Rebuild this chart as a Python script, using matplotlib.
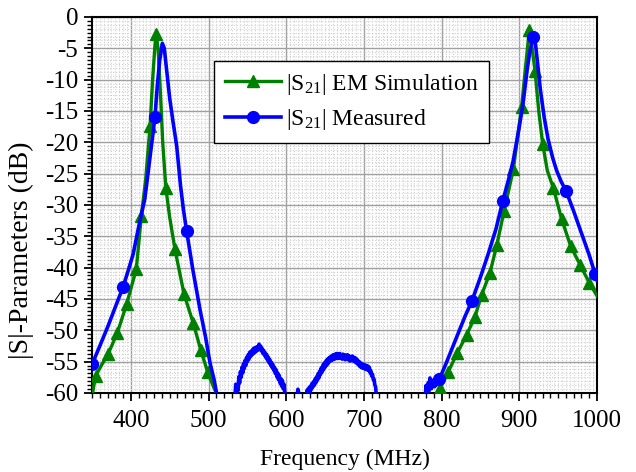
import numpy as np
import matplotlib.pyplot as plt
from matplotlib.ticker import MultipleLocator

plt.rcParams['font.family'] = ['Liberation Serif', 'DejaVu Serif']
plt.rcParams['mathtext.fontset'] = 'custom'
plt.rcParams['mathtext.rm'] = 'Liberation Serif'
plt.rcParams['mathtext.it'] = 'Liberation Serif:italic'
plt.rcParams['axes.unicode_minus'] = False

# |S21| EM simulation (two passbands), 1 = point carries a marker
sim_f_lo = [350, 354.5, 362, 370.6, 382.6, 394.6, 407, 413.5, 419, 424.7, 428, 431,
            432.5, 435, 438, 441, 445, 450, 456.8, 468.4, 480.4, 489.9, 498.9, 507, 512]
sim_db_lo = [-60.5, -57.3, -55.6, -53.8, -50.4, -45.8, -40.2, -31.7, -26, -17.4, -10, -4.5,
             -2.7, -5, -12, -20, -27.3, -32, -37.1, -44.2, -48.9, -53.1, -56.7, -59.2, -60.5]
sim_mk_lo = [0, 1, 0, 1, 1, 1, 1, 1, 0, 1, 0, 0,
             1, 0, 0, 0, 1, 0, 1, 1, 1, 1, 1, 0, 0]

sim_f_hi = [795, 798, 808.6, 820.2, 832.3, 843, 851.6, 862.3, 871, 880.3, 892.3, 903, 908,
            912.9, 916, 920.2, 925, 930, 936, 943.8, 954.6, 966.2, 978, 990, 1000]
sim_db_hi = [-60.5, -59.2, -56.6, -53.6, -50.7, -47.8, -44.3, -40.8, -36.4, -31, -24.3, -14.3, -8,
             -2, -4.5, -8.6, -15, -20.2, -24.5, -27.3, -32.3, -36.6, -39.5, -42.4, -44.5]
sim_mk_hi = [0, 1, 1, 1, 1, 1, 1, 1, 1, 1, 1, 1, 0,
             1, 0, 1, 0, 1, 0, 1, 1, 1, 1, 1, 0]

# |S21| measured: lower passband
meas_f_lo = [350.5, 360, 370, 380, 389.9, 397, 403, 410, 418, 424, 428, 431, 434, 437,
             440.5, 443, 446, 450, 454, 459, 464, 467.6, 471.8, 480, 489, 496, 502, 507, 511]
meas_db_lo = [-55.3, -52.5, -49.5, -46.3, -43.1, -40.3, -37.8, -33.5, -29, -23, -19, -16, -11, -7,
              -4.2, -5, -8.5, -13, -16.5, -20.6, -27, -30.7, -34.2, -40.5, -46.7, -51, -55.3, -57.8, -60.5]
meas_mk_lo = [1, 0, 0, 0, 1, 0, 0, 0, 0, 0, 0, 1, 0, 0,
              0, 0, 0, 0, 0, 0, 0, 0, 1, 0, 0, 0, 0, 0, 0]

# measured noise floor bumps (534-599 MHz, ~615 MHz, 626-716 MHz)
meas_f_n1 = list(range(534, 600))
meas_db_n1 = [-60.5, -58.6, -59.8, -58.9, -59.6, -57.4, -58.4, -56.6, -57.5, -55.9,
              -56.8, -55.3, -56.1, -54.8, -55.6, -54.3, -55.0, -53.9, -54.6, -53.5,
              -54.2, -53.3, -53.9, -53.0, -53.7, -52.8, -53.5, -52.7, -53.3, -52.6,
              -53.1, -52.2, -52.9, -52.5, -53.3, -52.9, -53.7, -53.2, -54.0, -53.6,
              -54.4, -53.9, -54.8, -54.3, -55.2, -54.7, -55.6, -55.1, -56.0, -55.5,
              -56.4, -55.9, -56.9, -56.3, -57.4, -56.8, -57.9, -57.2, -58.4, -57.7,
              -58.9, -58.0, -59.3, -58.6, -59.8, -60.5]

meas_f_n2 = [614, 615, 616, 617]
meas_db_n2 = [-60.5, -59.4, -59.9, -60.5]

meas_f_n3 = list(range(626, 717))
meas_db_n3 = [-60.5, -59.5, -60.1, -59.2, -59.8, -58.9, -59.5, -58.5, -59.1, -58.2,
              -58.8, -57.8, -58.4, -57.4, -58.0, -56.9, -57.6, -56.5, -57.1, -56.0,
              -56.7, -55.6, -56.3, -55.2, -55.9, -54.9, -55.6, -54.6, -55.3, -54.4,
              -55.0, -54.2, -54.8, -54.0, -54.7, -53.9, -54.6, -53.8, -54.5, -53.7,
              -54.4, -53.8, -54.5, -53.7, -54.4, -53.9, -54.6, -53.8, -54.5, -53.9,
              -54.7, -54.0, -54.6, -53.9, -54.7, -54.1, -54.9, -54.2, -54.8, -54.1,
              -54.9, -54.3, -55.0, -54.4, -55.2, -54.6, -55.4, -54.9, -55.7, -55.1,
              -55.9, -55.3, -56.0, -55.4, -56.1, -55.5, -56.2, -55.6, -56.3, -55.7,
              -56.4, -55.9, -56.8, -56.5, -57.3, -57.0, -57.9, -57.8, -58.7, -59.0,
              -60.5]

# measured: upper passband
meas_f_hi = [779, 780, 781, 782, 783, 784, 785, 786, 787, 788, 789, 790, 791, 792, 793,
             794, 795, 796, 797, 805, 818, 830, 838.7,
             850, 860, 870, 878.6, 886, 892, 900, 905, 910, 913, 916, 918, 921, 924, 927, 932,
             937, 943, 948, 954, 960, 970, 980, 990, 997.5, 1000]
meas_db_hi = [-60.5, -58.8, -60.2, -59.2, -58.3, -59.6, -57.6, -58.7, -59.3, -58.0, -58.6,
              -57.9, -59.0, -58.2, -58.7, -58.0, -58.5, -57.9, -57.8, -55.5, -51.5, -47.8, -45.4,
              -41.5, -37.8, -33.8, -29.4, -26, -23, -17.5, -13.6, -8.5, -6, -4, -3.2, -4.5, -8,
              -11.5, -16, -19.5, -22.5, -24.5, -26.3, -27.7, -31, -34.5, -38, -41, -42]
meas_mk_hi = [0] * 18 + [1, 0, 0, 0, 1,
              0, 0, 0, 1, 0, 0, 0, 0, 0, 0, 0, 1, 0, 0, 0, 0,
              0, 0, 0, 0, 1, 0, 0, 0, 1, 0]


def join(*parts):
    # glue segments with NaN gaps so each series is one Line2D
    out = []
    for i, p in enumerate(parts):
        if i:
            out.append(np.nan)
        out.extend(p)
    return np.array(out, dtype=float)


sim_f = join(sim_f_lo, sim_f_hi)
sim_db = join(sim_db_lo, sim_db_hi)
sim_mk = join(sim_mk_lo, sim_mk_hi) == 1

meas_f = join(meas_f_lo, meas_f_n1, meas_f_n2, meas_f_n3, meas_f_hi)
meas_db = join(meas_db_lo, meas_db_n1, meas_db_n2, meas_db_n3, meas_db_hi)
meas_mk = join(meas_mk_lo, [0] * len(meas_f_n1), [0] * len(meas_f_n2),
               [0] * len(meas_f_n3), meas_mk_hi) == 1

fig = plt.figure(figsize=(6.36, 4.72), dpi=100)
ax = fig.add_axes([0.1447, 0.1674, 0.794, 0.7966])

ax.plot(sim_f, sim_db, '-^', color='#008000', lw=2.4, ms=8,
        markevery=list(sim_mk), label='|S$_{21}$| EM Simulation', zorder=3)
ax.plot(meas_f, meas_db, '-o', color='#0000FF', lw=2.6, ms=8.5,
        markevery=list(meas_mk), label='|S$_{21}$| Measured', zorder=4)

ax.set_xlim(350, 1000)
ax.set_ylim(-60, 0)
ax.xaxis.set_major_locator(MultipleLocator(100))
ax.xaxis.set_minor_locator(MultipleLocator(10))
ax.yaxis.set_major_locator(MultipleLocator(5))
ax.yaxis.set_minor_locator(MultipleLocator(0.625))

ax.set_axisbelow(True)
ax.grid(which='major', color='#a0a0a0', lw=1.0, ls='-')
ax.grid(which='minor', color='#cfcfcf', lw=0.8, ls=':')
# extra dotted grid halfway between the 10 MHz minor ticks
for xg in np.arange(355, 1000, 10):
    ax.axvline(xg, color='#cfcfcf', lw=0.8, ls=':', zorder=0.5)

for s in ax.spines.values():
    s.set_linewidth(1.5)
ax.tick_params(which='major', direction='out', length=6, width=1.3, labelsize=18, pad=6)
ax.tick_params(which='minor', direction='out', length=3.5, width=1.0)
ax.tick_params(axis='y', which='major', pad=4)

ax.set_xlabel('Frequency (MHz)', fontsize=17, labelpad=12)
ax.set_ylabel('|S|-Parameters (dB)', fontsize=20, labelpad=2)
ax.yaxis.set_label_coords(-0.115, 0.38)

leg = ax.legend(loc='upper left', bbox_to_anchor=(0.2416, 0.8827), borderaxespad=0,
                fontsize=17, handlelength=2.4, handletextpad=0.2, labelspacing=0.45,
                fancybox=False, edgecolor='black', framealpha=1, numpoints=1,
                borderpad=0.45)
leg.get_frame().set_linewidth(1.0)

fig.savefig('out.png', dpi=100)
